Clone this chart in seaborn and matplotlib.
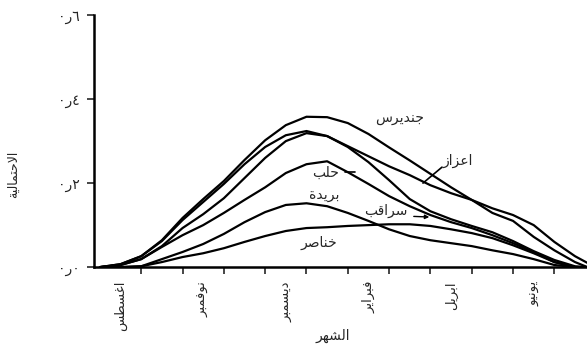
"""
Probability curves by month for six sites (Arabic chart)
"""

import pandas as pd
import matplotlib
matplotlib.use('Agg')
import matplotlib.pyplot as plt
import seaborn as sns

# x positions in tick steps along the month axis
x_steps = [0, 0.5, 1, 1.5, 2, 2.5, 3, 3.5, 4, 4.5, 5, 5.5, 6, 6.5, 7, 7.5,
           8, 8.5, 9, 9.5, 10, 10.5, 11, 11.5, 11.8]

jindires = [0, 0.007, 0.026, 0.064, 0.117, 0.162, 0.205, 0.255, 0.302, 0.338,
            0.358, 0.357, 0.343, 0.317, 0.285, 0.254, 0.222, 0.19, 0.16, 0.129,
            0.11, 0.072, 0.04, 0.012, 0]
azaz = [0, 0.005, 0.019, 0.05, 0.093, 0.126, 0.164, 0.212, 0.26, 0.3,
        0.319, 0.312, 0.288, 0.264, 0.24, 0.219, 0.195, 0.176, 0.16, 0.14,
        0.124, 0.1, 0.06, 0.026, 0.01]
saraqib = [0, 0.007, 0.026, 0.062, 0.112, 0.155, 0.198, 0.245, 0.286, 0.314,
           0.324, 0.312, 0.286, 0.25, 0.207, 0.162, 0.133, 0.114, 0.098, 0.083,
           0.062, 0.038, 0.017, 0.002, 0]
halab = [0, 0.005, 0.019, 0.048, 0.076, 0.1, 0.129, 0.16, 0.19, 0.224,
         0.245, 0.252, 0.226, 0.198, 0.169, 0.145, 0.124, 0.107, 0.093, 0.076,
         0.057, 0.036, 0.012, 0, 0]
buraida = [0, 0, 0.002, 0.019, 0.036, 0.055, 0.079, 0.107, 0.131, 0.148,
           0.152, 0.145, 0.129, 0.11, 0.09, 0.074, 0.064, 0.057, 0.05, 0.04,
           0.031, 0.019, 0.005, 0, 0]
khanasir = [0, 0, 0.002, 0.012, 0.024, 0.033, 0.045, 0.06, 0.074, 0.086,
            0.093, 0.095, 0.098, 0.1, 0.102, 0.102, 0.098, 0.09, 0.081, 0.069,
            0.052, 0.033, 0.012, 0, 0]

sites = ['جنديرس', 'اعزاز', 'سراقب', 'حلب', 'بريدة', 'خناصر']
series = [jindires, azaz, saraqib, halab, buraida, khanasir]

months = ['اغسطس', 'نوفمبر', 'ديسمبر', 'فبراير', 'ابريل', 'يونيو']
month_pos = [0.5, 2.5, 4.5, 6.5, 8.5, 10.5]
tick_pos = [1, 2, 3, 4, 5, 6, 7, 8, 9, 10, 11]
y_ticks = [0.0, 0.2, 0.4, 0.6]
y_labels = ['٠ر٠', '٠ر٢', '٠ر٤', '٠ر٦']   # written as printed, left to right

# isolated form in Arabic Presentation Forms-B, and whether the letter joins forward
AR_FORMS = {
    'ا': (0xFE8D, False), 'ب': (0xFE8F, True), 'ة': (0xFE93, False),
    'ت': (0xFE95, True), 'ج': (0xFE9D, True), 'ح': (0xFEA1, True),
    'خ': (0xFEA5, True), 'د': (0xFEA9, False), 'ر': (0xFEAD, False),
    'ز': (0xFEAF, False), 'س': (0xFEB1, True), 'ش': (0xFEB5, True),
    'ص': (0xFEB9, True), 'ط': (0xFEC1, True), 'ع': (0xFEC9, True),
    'غ': (0xFECD, True), 'ف': (0xFED1, True), 'ق': (0xFED5, True),
    'ل': (0xFEDD, True), 'م': (0xFEE1, True), 'ن': (0xFEE5, True),
    'ه': (0xFEE9, True), 'و': (0xFEED, False), 'ي': (0xFEF1, True),
}


def ar(word):
    """matplotlib has no Arabic shaping: pick joined forms and reverse to visual order"""
    out = []
    prev_joins = False
    i = 0
    while i < len(word):
        ch = word[i]
        nxt = word[i + 1] if i + 1 < len(word) else ''
        if ch == 'ل' and nxt == 'ا':
            out.append(chr(0xFEFC if prev_joins else 0xFEFB))
            prev_joins = False
            i += 2
            continue
        if ch not in AR_FORMS:
            out.append(ch)
            prev_joins = False
            i += 1
            continue
        base, dual = AR_FORMS[ch]
        next_joins = dual and nxt in AR_FORMS
        if prev_joins and next_joins:
            out.append(chr(base + 3))
        elif prev_joins:
            out.append(chr(base + 1))
        elif next_joins:
            out.append(chr(base + 2))
        else:
            out.append(chr(base))
        prev_joins = dual
        i += 1
    return ''.join(reversed(out))


rows = []
for name, vals in zip(sites, series):
    for x, y in zip(x_steps, vals):
        rows.append({'x': x, 'p': y, 'site': name})
df = pd.DataFrame(rows)

sns.set_style("white")
plt.rcParams['font.family'] = ['DejaVu Sans']

fig = plt.figure(figsize=(5.87, 3.46), dpi=100)
ax = fig.add_axes([0.16, 0.228, 0.84, 0.7283])

sns.lineplot(data=df, x='x', y='p', hue='site', hue_order=sites,
             palette=['black'] * len(sites), linewidth=1.6, legend=False,
             sort=False, ax=ax)
for line in ax.lines:
    line.set_solid_joinstyle('round')

ax.set_xlim(-0.145, 11.79)
ax.set_ylim(0, 0.6)
sns.despine(ax=ax)
for side in ['left', 'bottom']:
    ax.spines[side].set_linewidth(1.8)
    ax.spines[side].set_color('black')

ax.set_yticks(y_ticks)
ax.set_yticklabels(y_labels, fontsize=10)
ax.tick_params(axis='y', direction='out', length=5, width=1.2, pad=5, left=True)

ax.set_xticks(tick_pos)
ax.set_xticklabels([])
ax.set_xticks(month_pos, minor=True)
ax.set_xticklabels([ar(m) for m in months], minor=True, rotation=90,
                   fontsize=9.5, va='top')
ax.tick_params(axis='x', which='major', direction='out', length=5, width=1.2,
               bottom=True)
ax.tick_params(axis='x', which='minor', length=0, pad=10)

ax.set_xlabel(ar('الشهر'), fontsize=10)
ax.xaxis.set_label_coords(0.485, -0.245)
ax.set_ylabel(ar('الاحتمالية'), fontsize=9)
ax.yaxis.set_label_coords(-0.15, 0.37)

# curve names, as written on the chart
lab = dict(fontsize=10, ha='center', va='center')
ax.text(7.26, 0.355, ar('جنديرس'), **lab)
ax.text(8.67, 0.252, ar('اعزاز'), **lab)
ax.plot([8.28, 7.82], [0.238, 0.2], color='black', lw=1.2)
ax.text(5.45, 0.224, ar('حلب'), **lab)
ax.plot([5.93, 6.17], [0.226, 0.226], color='black', lw=1.2)
ax.text(5.42, 0.172, ar('بريدة'), **lab)
ax.text(6.92, 0.133, ar('سراقب'), **lab)
ax.annotate('', xy=(8.04, 0.119), xytext=(7.53, 0.121),
            arrowprops=dict(arrowstyle='-|>', color='black', lw=1.0,
                            mutation_scale=6))
ax.text(5.3, 0.058, ar('خناصر'), **lab)

plt.savefig('out.png', dpi=100)
plt.close()
